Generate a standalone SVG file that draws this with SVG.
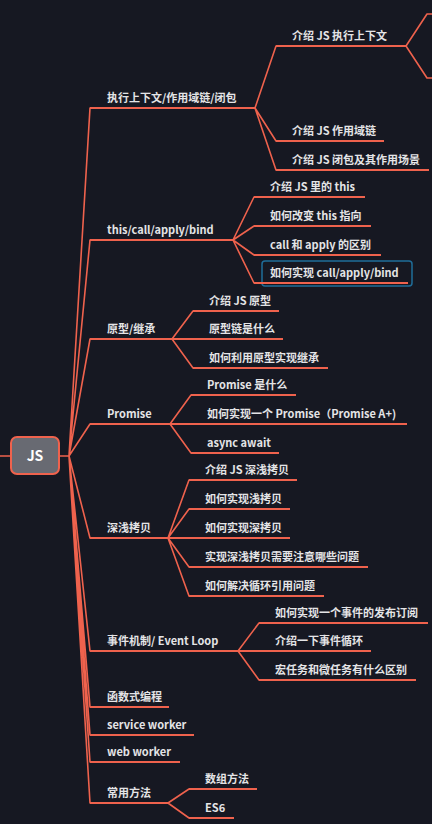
<svg xmlns="http://www.w3.org/2000/svg" width="432" height="824" viewBox="0 0 432 824">
<style>
.bg{fill:#161822}
.c{fill:none;stroke:#ef624d;stroke-width:1.6;stroke-linejoin:round;stroke-linecap:round}
.u{fill:none;stroke:#ef624d;stroke-width:2}
.t{font-family:"Noto Sans CJK SC","Noto Sans",sans-serif;font-size:11px;font-weight:bold;fill:#e4e4e6}
.root{fill:#686a72;stroke:#ef624d;stroke-width:2}
.rt{font-family:"Noto Sans CJK SC","Noto Sans",sans-serif;font-size:14px;font-weight:bold;fill:#ffffff}
.sel{fill:none;stroke:#1f6d99;stroke-width:1.5}
</style>
<rect class="bg" x="0" y="0" width="432" height="824"/>
<g id="connectors">
<path class="c" d="M0 456H11M59 456H69"/>
<path class="c" d="M69 456L90 108M69 456L90 240M69 456L90 339M69 456L90 424M69 456L90 538M69 456L90 651M69 456L90 707M69 456L90 735M69 456L90 762M69 456L90 803"/>
<path class="c" d="M255 108L276 46M255 108L276 141M255 108L276 170"/>
<path class="c" d="M406 46L427 14H432M406 46L427 78H432"/>
<path class="c" d="M233 240L254 197M233 240L254 226M233 240L254 255M233 240L254 283"/>
<path class="c" d="M172 339L193 311M172 339L193 368"/>
<path class="c" d="M170 424L191 395M170 424L191 453"/>
<path class="c" d="M168 538L189 480M168 538L189 509M168 538L189 567M168 538L189 596"/>
<path class="c" d="M238 651L259 623M238 651L259 680"/>
<path class="c" d="M168 803L189 789M168 803L189 818"/>
</g>
<g id="root">
<rect class="root" x="11" y="437" width="48" height="37" rx="6"/>
<text class="rt" x="35" y="461" text-anchor="middle">JS</text>
</g>
<g id="n1"><path class="u" d="M90 108H255"/><text class="t" x="107" y="102">执行上下文/作用域链/闭包</text></g>
<g id="n1a"><path class="u" d="M276 46H406"/><text class="t" x="292" y="40">介绍 JS 执行上下文</text></g>
<g id="n1b"><path class="u" d="M276 141H384"/><text class="t" x="292" y="135">介绍 JS 作用域链</text></g>
<g id="n1c"><path class="u" d="M276 170H429"/><text class="t" x="292" y="164">介绍 JS 闭包及其作用场景</text></g>
<g id="n2"><path class="u" d="M90 240H233"/><text class="t" x="107" y="234">this/call/apply/bind</text></g>
<g id="n2a"><path class="u" d="M254 197H365"/><text class="t" x="270" y="191">介绍 JS 里的 this</text></g>
<g id="n2b"><path class="u" d="M254 226H371"/><text class="t" x="270" y="220">如何改变 this 指向</text></g>
<g id="n2c"><path class="u" d="M254 255H381"/><text class="t" x="270" y="249">call 和 apply 的区别</text></g>
<g id="n2d"><rect class="sel" x="262" y="261" width="150" height="25" rx="3"/><path class="u" d="M254 283H408"/><text class="t" x="270" y="277">如何实现 call/apply/bind</text></g>
<g id="n3"><path class="u" d="M90 339H172"/><text class="t" x="107" y="333">原型/继承</text></g>
<g id="n3a"><path class="u" d="M193 311H279"/><text class="t" x="209" y="305">介绍 JS 原型</text></g>
<g id="n3b"><path class="u" d="M172 339H283"/><text class="t" x="209" y="333">原型链是什么</text></g>
<g id="n3c"><path class="u" d="M193 368H328"/><text class="t" x="209" y="362">如何利用原型实现继承</text></g>
<g id="n4"><path class="u" d="M90 424H170"/><text class="t" x="107" y="418">Promise</text></g>
<g id="n4a"><path class="u" d="M191 395H296"/><text class="t" x="207" y="389">Promise 是什么</text></g>
<g id="n4b"><path class="u" d="M170 424H407"/><text class="t" x="207" y="418">如何实现一个 Promise（Promise A+)</text></g>
<g id="n4c"><path class="u" d="M191 453H279"/><text class="t" x="207" y="447">async await</text></g>
<g id="n5"><path class="u" d="M90 538H168"/><text class="t" x="107" y="532">深浅拷贝</text></g>
<g id="n5a"><path class="u" d="M189 480H297"/><text class="t" x="205" y="474">介绍 JS 深浅拷贝</text></g>
<g id="n5b"><path class="u" d="M189 509H290"/><text class="t" x="205" y="503">如何实现浅拷贝</text></g>
<g id="n5c"><path class="u" d="M168 538H290"/><text class="t" x="205" y="532">如何实现深拷贝</text></g>
<g id="n5d"><path class="u" d="M189 567H368"/><text class="t" x="205" y="561">实现深浅拷贝需要注意哪些问题</text></g>
<g id="n5e"><path class="u" d="M189 596H324"/><text class="t" x="205" y="590">如何解决循环引用问题</text></g>
<g id="n6"><path class="u" d="M90 651H238"/><text class="t" x="107" y="645">事件机制/ Event Loop</text></g>
<g id="n6a"><path class="u" d="M259 623H428"/><text class="t" x="275" y="617">如何实现一个事件的发布订阅</text></g>
<g id="n6b"><path class="u" d="M238 651H371"/><text class="t" x="275" y="645">介绍一下事件循环</text></g>
<g id="n6c"><path class="u" d="M259 680H416"/><text class="t" x="275" y="674">宏任务和微任务有什么区别</text></g>
<g id="n7"><path class="u" d="M90 707H169"/><text class="t" x="107" y="701">函数式编程</text></g>
<g id="n8"><path class="u" d="M90 735H194"/><text class="t" x="107" y="729">service worker</text></g>
<g id="n9"><path class="u" d="M90 762H180"/><text class="t" x="107" y="756">web worker</text></g>
<g id="n10"><path class="u" d="M90 803H168"/><text class="t" x="107" y="797">常用方法</text></g>
<g id="n10a"><path class="u" d="M189 789H257"/><text class="t" x="205" y="783">数组方法</text></g>
<g id="n10b"><path class="u" d="M189 818H234"/><text class="t" x="205" y="812">ES6</text></g>
</svg>
